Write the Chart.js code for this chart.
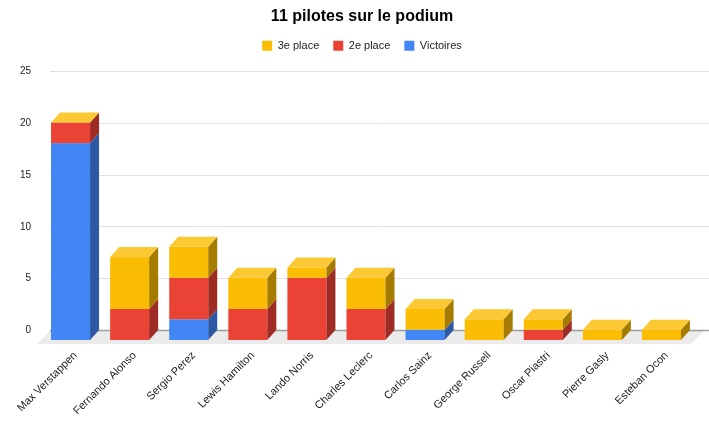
<!DOCTYPE html>
<html>
<head>
<meta charset="utf-8">
<script src="https://cdn.jsdelivr.net/npm/chart.js@4/dist/chart.umd.min.js"></script>
<style>
  html, body { margin: 0; padding: 0; background: #ffffff; }
  #wrap { width: 709px; height: 429px; }
</style>
</head>
<body>
<div id="wrap"><canvas id="c" width="709" height="429"></canvas></div>
<script>
const categories = ['Max Verstappen', 'Fernando Alonso', 'Sergio Perez', 'Lewis Hamilton', 'Lando Norris',
  'Charles Leclerc', 'Carlos Sainz', 'George Russell', 'Oscar Piastri', 'Pierre Gasly', 'Esteban Ocon'];
const victoires = [19, 0, 2, 0, 0, 0, 1, 0, 0, 0, 0];
const deuxiemePlace = [2, 3, 4, 3, 6, 3, 0, 0, 1, 0, 0];
const troisiemePlace = [0, 5, 3, 3, 1, 3, 2, 2, 1, 1, 1];
const seriesNames = ['Victoires', '2e place', '3e place'];
const yTicks = [0, 5, 10, 15, 20, 25];

const FONT = "'Liberation Sans', Arial, sans-serif";
const faceColors = ['#4285f4', '#ea4335', '#fbbc04'];
const sideColors = ['#2c58a4', '#9e2b24', '#a67c00'];
const topColor = '#fcc934';
const DX = 9, DY = 10;

const bars3d = {
  id: 'bars3d',
  beforeDatasetsDraw(chart) {
    const ctx = chart.ctx;
    const ca = chart.chartArea;
    const ys = chart.scales.y;
    const y0 = ys.getPixelForValue(0);
    ctx.save();
    // floor
    ctx.fillStyle = '#ebebeb';
    ctx.beginPath();
    ctx.moveTo(ca.left + 1, y0);
    ctx.lineTo(ca.right + 5, y0);
    ctx.lineTo(ca.right - 9, y0 + 14);
    ctx.lineTo(ca.left - 13, y0 + 14);
    ctx.closePath();
    ctx.fill();
    // grid lines and y tick labels
    ctx.font = '10px ' + FONT;
    ctx.textAlign = 'right';
    ctx.textBaseline = 'middle';
    yTicks.forEach((v) => {
      const yp = ys.getPixelForValue(v);
      const y = Math.round(yp) + 0.5;
      ctx.strokeStyle = v === 0 ? '#9e9e9e' : '#e0e0e0';
      ctx.lineWidth = v === 0 ? 1.5 : 1;
      ctx.beginPath();
      ctx.moveTo(ca.left, y);
      ctx.lineTo(chart.width, y);
      ctx.stroke();
      ctx.fillStyle = '#222222';
      ctx.fillText(String(v), ca.left - 19, yp + 0.5);
    });
    // bars
    const n = chart.data.labels.length;
    const nd = chart.data.datasets.length;
    for (let i = 0; i < n; i++) {
      let topY = null, L = 0, R = 0;
      for (let d = 0; d < nd; d++) {
        const el = chart.getDatasetMeta(d).data[i];
        const p = el.getProps(['x', 'y', 'base', 'width'], true);
        const left = p.x - p.width / 2 - DX;
        const right = p.x + p.width / 2 - DX;
        const top = Math.min(p.y, p.base) + DY;
        const bottom = Math.max(p.y, p.base) + DY;
        L = left; R = right; topY = top;
        if (bottom - top > 0) {
          ctx.fillStyle = faceColors[d];
          ctx.fillRect(left, top, right - left, bottom - top);
          ctx.fillStyle = sideColors[d];
          ctx.beginPath();
          ctx.moveTo(right, top);
          ctx.lineTo(right + DX, top - DY);
          ctx.lineTo(right + DX, bottom - DY);
          ctx.lineTo(right, bottom);
          ctx.closePath();
          ctx.fill();
        }
      }
      ctx.fillStyle = topColor;
      ctx.beginPath();
      ctx.moveTo(L, topY);
      ctx.lineTo(R, topY);
      ctx.lineTo(R + DX, topY - DY);
      ctx.lineTo(L + DX, topY - DY);
      ctx.closePath();
      ctx.fill();
    }
    ctx.restore();
    return false;
  }
};

new Chart(document.getElementById('c'), {
  type: 'bar',
  data: {
    labels: categories,
    datasets: [
      { label: seriesNames[0], data: victoires, backgroundColor: faceColors[0], borderWidth: 0 },
      { label: seriesNames[1], data: deuxiemePlace, backgroundColor: faceColors[1], borderWidth: 0 },
      { label: seriesNames[2], data: troisiemePlace, backgroundColor: faceColors[2], borderWidth: 0 }
    ]
  },
  options: {
    responsive: false,
    animation: false,
    layout: { padding: { left: 24, right: 9, top: 0, bottom: 0 } },
    datasets: { bar: { categoryPercentage: 1, barPercentage: 0.66 } },
    plugins: {
      title: {
        display: true,
        text: '11 pilotes sur le podium',
        color: '#000000',
        font: { family: FONT, size: 16, weight: 'bold' },
        padding: { top: 7, bottom: 0 }
      },
      legend: {
        display: true,
        reverse: true,
        labels: {
          boxWidth: 10, boxHeight: 10, padding: 14,
          color: '#222222',
          font: { family: FONT, size: 11 }
        }
      },
      tooltip: { enabled: false }
    },
    scales: {
      x: {
        stacked: true,
        grid: { display: false, drawTicks: false },
        border: { display: false },
        ticks: {
          color: '#222222',
          font: { family: FONT, size: 11 },
          minRotation: 45, maxRotation: 45,
          labelOffset: -4,
          padding: 19,
          autoSkip: false
        },
        afterFit(s) { s.height = 99; }
      },
      y: {
        stacked: true,
        min: 0, max: 25.94,
        grid: { display: false, drawTicks: false },
        border: { display: false },
        ticks: { display: false },
        afterFit(s) { s.width = 26; }
      }
    }
  },
  plugins: [bars3d]
});
</script>
</body>
</html>
